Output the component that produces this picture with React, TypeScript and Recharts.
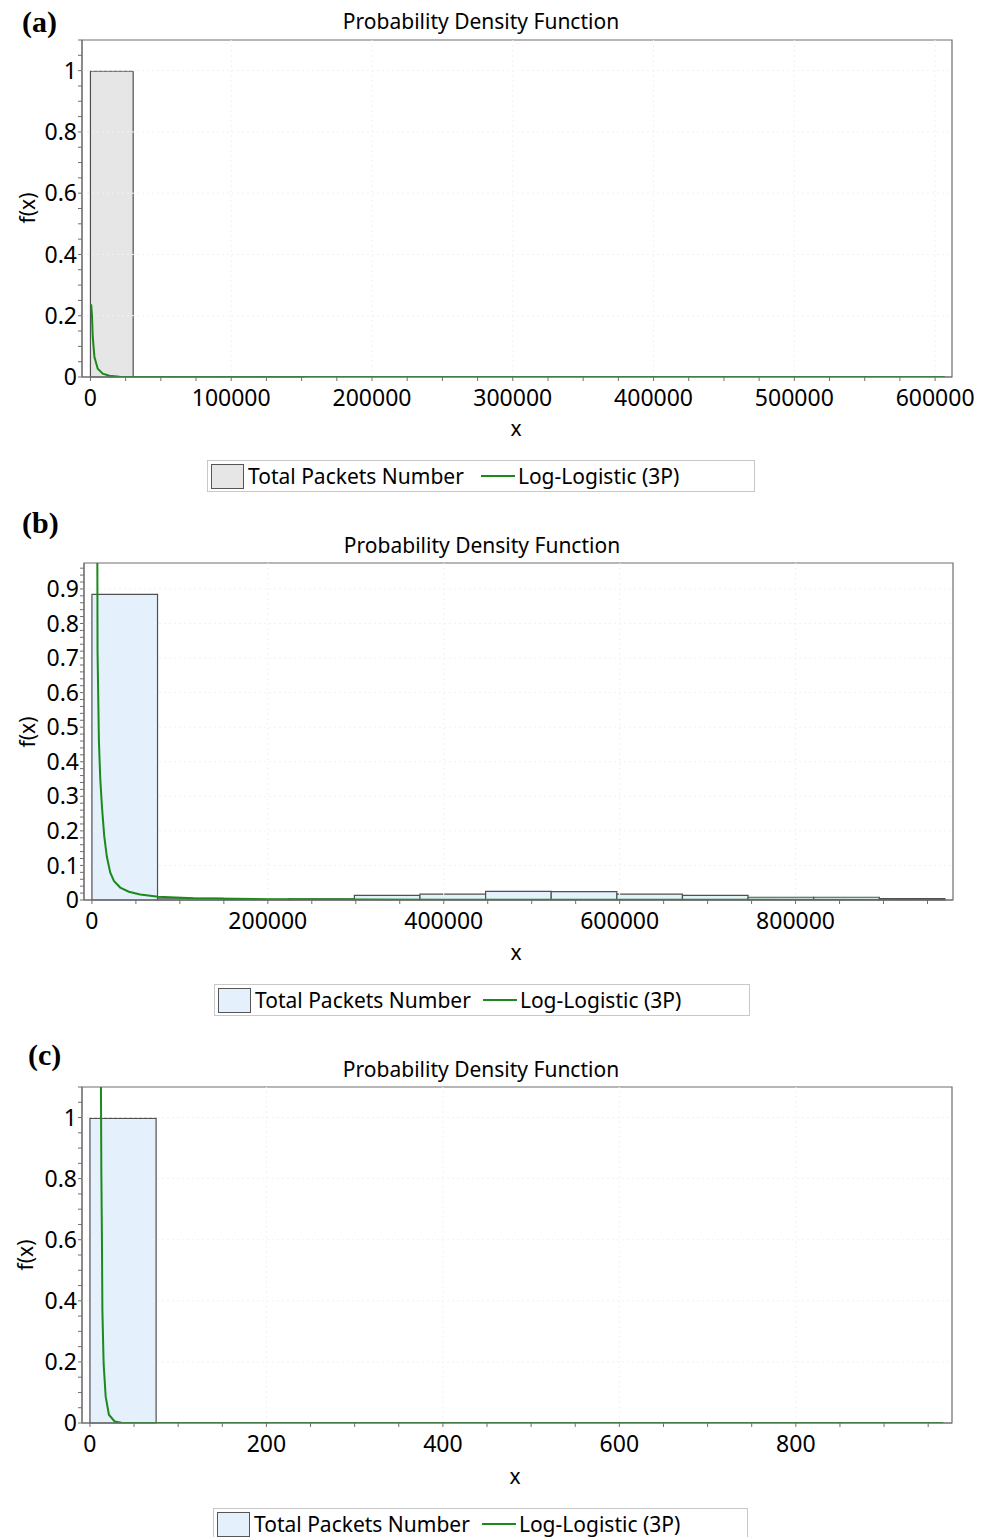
import React from 'react';
import { ComposedChart, Line, XAxis, YAxis, ReferenceArea, ReferenceLine } from 'recharts';

const FONT = "'Noto Sans', 'Open Sans', sans-serif";

const C = {
  green: '#1b8a1b',
  barStroke: '#505050',
  grayFill: '#e6e6e6',
  blueFill: '#e4f0fc',
  axis: '#6e6e6e',
  frame: '#6e6e6e',
  grid: '#f2f2f2',
  legendBorder: '#c8c8c8',
};

const steps = (step: number, max: number) => {
  const out: number[] = [];
  for (let v = 0; v <= max + step * 1e-6; v += step) out.push(+v.toFixed(6));
  return out;
};

// (a) total packets number
const binEdgesA = [0, 30350, 60700, 91050, 121400, 151750, 182100, 212450, 242800, 273150, 303500, 333850, 364200, 394550, 424900, 455250, 485600, 515950, 546300, 576650, 607000];
const binHeightsA = [0.998, 0.0008, 0.0003, 0.0002, 0.0001, 0, 0, 0, 0, 0, 0, 0, 0, 0, 0, 0, 0, 0, 0, 0];
const curveA = [
  { x: 500, y: 0.237 },
  { x: 1100, y: 0.2 },
  { x: 1640, y: 0.13 },
  { x: 2840, y: 0.065 },
  { x: 5180, y: 0.027 },
  { x: 8730, y: 0.011 },
  { x: 13500, y: 0.004 },
  { x: 20600, y: 0.0012 },
  { x: 40000, y: 0.0003 },
  { x: 100000, y: 0.0001 },
  { x: 300000, y: 0.00002 },
  { x: 606900, y: 0.00001 },
];
const xMajorA = [0, 100000, 200000, 300000, 400000, 500000, 600000];
const yMajorA = [0, 0.2, 0.4, 0.6, 0.8, 1];

// (b)
const binEdgesB = [0, 74600, 149200, 223800, 298400, 373000, 447600, 522200, 596800, 671400, 746000, 820600, 895200, 969800];
const binHeightsB = [0.884, 0.005, 0.002, 0.003, 0.0135, 0.017, 0.025, 0.024, 0.017, 0.0135, 0.008, 0.008, 0.004];
const curveB = [
  { x: 5900, y: 1.3 },
  { x: 6400, y: 0.72 },
  { x: 7950, y: 0.46 },
  { x: 9500, y: 0.35 },
  { x: 11400, y: 0.27 },
  { x: 14000, y: 0.185 },
  { x: 17000, y: 0.125 },
  { x: 20800, y: 0.08 },
  { x: 25000, y: 0.055 },
  { x: 32200, y: 0.036 },
  { x: 42000, y: 0.024 },
  { x: 54900, y: 0.016 },
  { x: 75300, y: 0.0095 },
  { x: 115500, y: 0.005 },
  { x: 200000, y: 0.0025 },
  { x: 400000, y: 0.001 },
  { x: 700000, y: 0.0005 },
  { x: 969800, y: 0.0003 },
];
const xMajorB = [0, 200000, 400000, 600000, 800000];
const yMajorB = [0, 0.1, 0.2, 0.3, 0.4, 0.5, 0.6, 0.7, 0.8, 0.9];

// (c)
const binEdgesC = [0, 75, 150, 225, 300, 375, 450, 525, 600, 675, 750, 825, 900, 975];
const binHeightsC = [0.997, 0, 0, 0, 0, 0, 0, 0, 0, 0, 0, 0, 0];
const curveC = [
  { x: 12.0, y: 1.4 },
  { x: 12.9, y: 0.83 },
  { x: 13.6, y: 0.6 },
  { x: 14.1, y: 0.37 },
  { x: 15.5, y: 0.195 },
  { x: 17.8, y: 0.087 },
  { x: 21.5, y: 0.027 },
  { x: 28, y: 0.005 },
  { x: 35.6, y: 0.0005 },
  { x: 100, y: 0.00002 },
  { x: 967, y: 0 },
];
const xMajorC = [0, 200, 400, 600, 800];
const yMajorC = [0, 0.2, 0.4, 0.6, 0.8, 1];

const isMajor = (majors: number[]) => (v: number) =>
  majors.some((m) => Math.abs(m - v) <= 1e-9 * Math.max(1, Math.abs(m))) ? String(v) : '';

type PanelProps = {
  top: number;
  yWidth: number;
  right: number;
  xHeight: number;
  xDomain: [number, number];
  yDomain: [number, number];
  xMajor: number[];
  xTicks: number[];
  yMajor: number[];
  yTicks: number[];
  edges: number[];
  heights: number[];
  curve: { x: number; y: number }[];
  fill: string;
};

const Panel: React.FC<PanelProps> = (p) => (
  <div style={{ position: 'absolute', left: 0, top: p.top }}>
    <ComposedChart width={992} height={420} data={p.curve} margin={{ top: 40, right: p.right, left: 0, bottom: 0 }}>
      <XAxis
        dataKey="x"
        type="number"
        domain={p.xDomain}
        allowDataOverflow
        ticks={p.xTicks}
        interval={0}
        tickFormatter={isMajor(p.xMajor)}
        height={p.xHeight}
        tickSize={4}
        tickMargin={9}
        tick={{ fontSize: 23, fill: '#000', fontFamily: FONT }}
        tickLine={{ stroke: C.axis }}
        axisLine={{ stroke: C.axis }}
      />
      <YAxis
        type="number"
        domain={p.yDomain}
        allowDataOverflow
        ticks={p.yTicks}
        interval={0}
        tickFormatter={isMajor(p.yMajor)}
        width={p.yWidth}
        tickSize={4}
        tickMargin={1}
        tick={{ fontSize: 23, fill: '#000', fontFamily: FONT }}
        tickLine={{ stroke: C.axis }}
        axisLine={{ stroke: C.axis }}
      />
      {p.yMajor.slice(1).map((v) => (
        <ReferenceLine key={`h${v}`} y={v} stroke={C.grid} strokeDasharray="2 3" />
      ))}
      {p.xMajor.slice(1).map((v) => (
        <ReferenceLine key={`v${v}`} x={v} stroke={C.grid} strokeDasharray="2 3" />
      ))}
      {p.heights.map((h, i) => (
        <ReferenceArea
          key={i}
          x1={p.edges[i]}
          x2={p.edges[i + 1]}
          y1={0}
          y2={h}
          fill={p.fill}
          fillOpacity={1}
          stroke={C.barStroke}
          strokeWidth={1.2}
        />
      ))}
      <Line dataKey="y" type="linear" stroke={C.green} strokeWidth={2} dot={false} isAnimationActive={false} />
      <ReferenceArea
        x1={p.xDomain[0]}
        x2={p.xDomain[1]}
        y1={p.yDomain[0]}
        y2={p.yDomain[1]}
        fill="none"
        stroke={C.frame}
        strokeWidth={1.2}
        ifOverflow="visible"
      />
    </ComposedChart>
  </div>
);

const Legend: React.FC<{ left: number; top: number; width: number; fill: string; gap: number }> = ({ left, top, width, fill, gap }) => (
  <div
    style={{
      position: 'absolute',
      left,
      top,
      width,
      height: 32,
      boxSizing: 'border-box',
      border: `1px solid ${C.legendBorder}`,
      display: 'flex',
      alignItems: 'center',
      paddingLeft: 3,
      fontFamily: FONT,
      fontSize: 21,
      color: '#000',
      whiteSpace: 'nowrap',
    }}
  >
    <span style={{ width: 33, height: 25, boxSizing: 'border-box', border: '1px solid #555', background: fill, marginRight: 4 }} />
    <span>Total Packets Number</span>
    <span style={{ width: 34, height: 2, background: C.green, marginLeft: gap, marginRight: 3 }} />
    <span>Log-Logistic (3P)</span>
  </div>
);

const Text: React.FC<{ x: number; y: number; children: React.ReactNode; rotate?: boolean; size?: number }> = ({ x, y, children, rotate, size = 21 }) => (
  <div
    style={{
      position: 'absolute',
      left: x,
      top: y,
      transform: `translate(-50%, -50%)${rotate ? ' rotate(-90deg)' : ''}`,
      fontFamily: FONT,
      fontSize: size,
      color: '#000',
      whiteSpace: 'nowrap',
      lineHeight: 1,
    }}
  >
    {children}
  </div>
);

const Tag: React.FC<{ x: number; y: number; children: React.ReactNode }> = ({ x, y, children }) => (
  <div style={{ position: 'absolute', left: x, top: y, fontFamily: "'Liberation Serif', 'Times New Roman', serif", fontWeight: 700, fontSize: 30, lineHeight: 1 }}>
    {children}
  </div>
);

export default function App() {
  return (
    <div style={{ position: 'relative', width: 992, height: 1537, margin: '-8px 0 0 -8px', overflow: 'hidden', background: '#fff' }}>
      <Panel
        top={0}
        yWidth={82}
        right={40}
        xHeight={43}
        xDomain={[-6000, 612000]}
        yDomain={[0, 1.1]}
        xMajor={xMajorA}
        xTicks={steps(25000, 600000)}
        yMajor={yMajorA}
        yTicks={steps(0.05, 1.1)}
        edges={binEdgesA}
        heights={binHeightsA}
        curve={curveA}
        fill={C.grayFill}
      />
      <Panel
        top={523}
        yWidth={84}
        right={39}
        xHeight={43}
        xDomain={[-9000, 979000]}
        yDomain={[0, 0.975]}
        xMajor={xMajorB}
        xTicks={steps(50000, 950000)}
        yMajor={yMajorB}
        yTicks={steps(0.02, 0.96)}
        edges={binEdgesB}
        heights={binHeightsB}
        curve={curveB}
        fill={C.blueFill}
      />
      <Panel
        top={1047}
        yWidth={82}
        right={40}
        xHeight={44}
        xDomain={[-9, 977]}
        yDomain={[0, 1.1]}
        xMajor={xMajorC}
        xTicks={steps(50, 950)}
        yMajor={yMajorC}
        yTicks={steps(0.05, 1.1)}
        edges={binEdgesC}
        heights={binHeightsC}
        curve={curveC}
        fill={C.blueFill}
      />

      <Tag x={22} y={7}>(a)</Tag>
      <Tag x={22} y={508}>(b)</Tag>
      <Tag x={28} y={1040}>(c)</Tag>

      <Text x={481} y={21}>Probability Density Function</Text>
      <Text x={482} y={545}>Probability Density Function</Text>
      <Text x={481} y={1069}>Probability Density Function</Text>

      <Text x={27} y={208} rotate>f(x)</Text>
      <Text x={27} y={732} rotate>f(x)</Text>
      <Text x={25} y={1255} rotate>f(x)</Text>

      <Text x={516} y={428}>x</Text>
      <Text x={516} y={952}>x</Text>
      <Text x={515} y={1476}>x</Text>

      <Legend left={207} top={460} width={548} fill={C.grayFill} gap={17} />
      <Legend left={214} top={984} width={536} fill={C.blueFill} gap={12} />
      <Legend left={213} top={1508} width={535} fill={C.blueFill} gap={12} />
    </div>
  );
}
